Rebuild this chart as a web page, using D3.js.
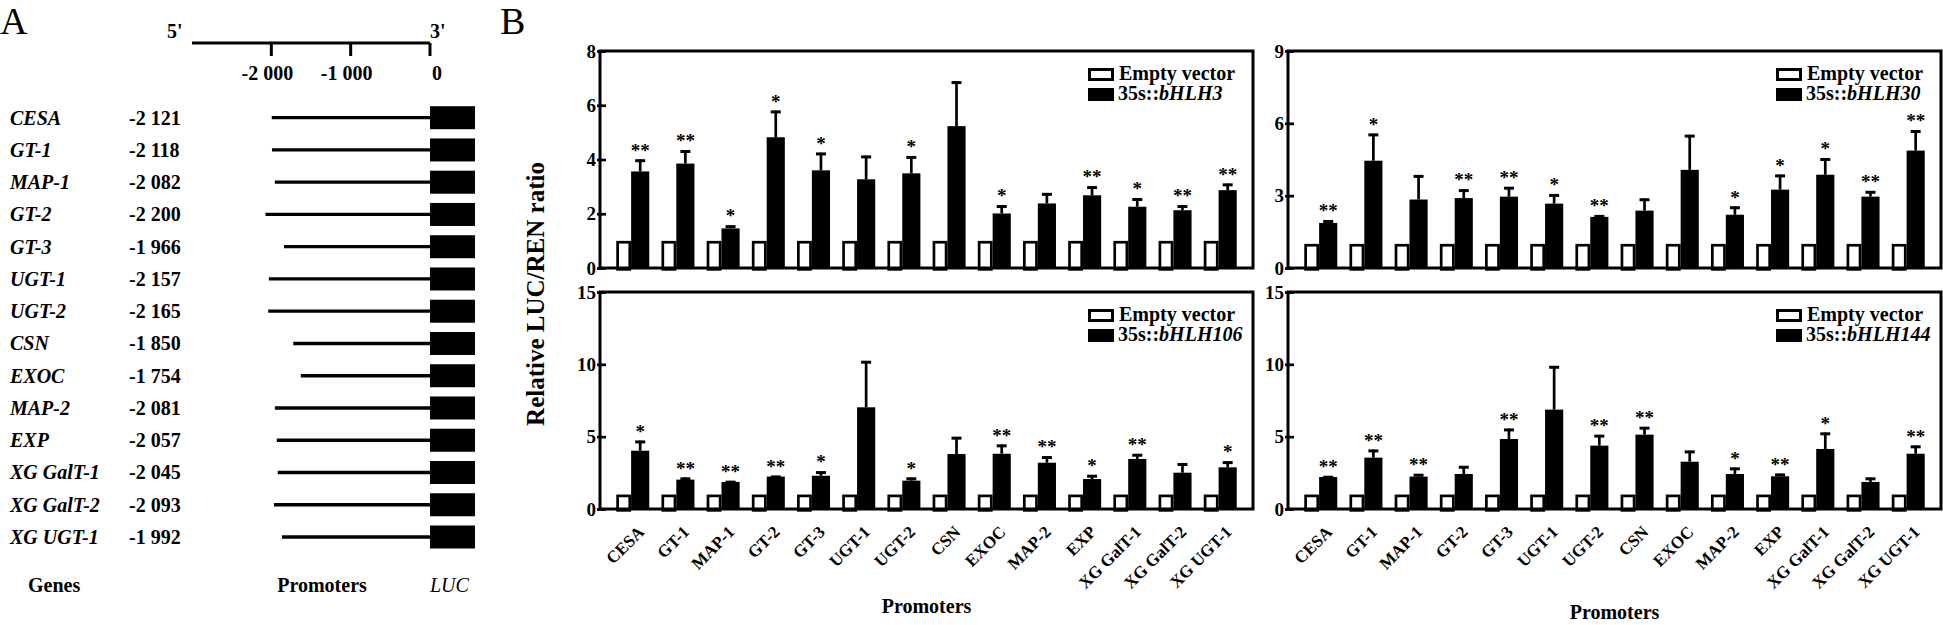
<!DOCTYPE html>
<html><head><meta charset="utf-8">
<script src="https://cdn.jsdelivr.net/npm/d3@7"></script>
<style>
html,body{margin:0;padding:0;background:#fff;}
svg text{font-family:"Liberation Serif","Times New Roman",serif;}
</style></head>
<body>
<svg id="chart" width="1943" height="625"></svg>
<script>
// ---------- Panel A data ----------
const genes = ["CESA","GT-1","MAP-1","GT-2","GT-3","UGT-1","UGT-2","CSN","EXOC","MAP-2","EXP","XG GalT-1","XG GalT-2","XG UGT-1"];
const promoterLengths = [2121,2118,2082,2200,1966,2157,2165,1850,1754,2081,2057,2045,2093,1992];
const scaleTicks = [-2000,-1000,0];

// ---------- Panel B data ----------
const categories = ["CESA","GT-1","MAP-1","GT-2","GT-3","UGT-1","UGT-2","CSN","EXOC","MAP-2","EXP","XG GalT-1","XG GalT-2","XG UGT-1"];
const emptyVector = [1,1,1,1,1,1,1,1,1,1,1,1,1,1];

const bHLH3Mean = [3.56,3.85,1.46,4.82,3.60,3.27,3.49,5.23,2.01,2.38,2.68,2.26,2.13,2.87];
const bHLH3SD   = [0.44,0.49,0.11,0.98,0.65,0.87,0.63,1.65,0.30,0.38,0.33,0.31,0.18,0.24];
const bHLH3Sig  = ["**","**","*","*","*","","*","","*","","**","*","**","**"];
const bHLH3Ticks = [0,2,4,6,8];

const bHLH30Mean = [1.87,4.45,2.84,2.90,2.96,2.67,2.12,2.38,4.07,2.21,3.25,3.87,2.96,4.87];
const bHLH30SD   = [0.11,1.12,1.01,0.36,0.40,0.39,0.07,0.50,1.45,0.34,0.62,0.68,0.23,0.84];
const bHLH30Sig  = ["**","*","","**","**","*","**","","","*","*","*","**","**"];
const bHLH30Ticks = [0,3,6,9];

const bHLH106Mean = [4.03,2.03,1.87,2.24,2.30,7.03,1.96,3.80,3.82,3.20,2.07,3.46,2.51,2.88];
const bHLH106SD   = [0.69,0.14,0.07,0.06,0.30,3.20,0.21,1.18,0.63,0.44,0.28,0.34,0.65,0.41];
const bHLH106Sig  = ["*","**","**","**","*","","*","","**","**","*","**","","*"];
const bHLH106Ticks = [0,5,10,15];

const bHLH144Mean = [2.21,3.55,2.24,2.42,4.84,6.87,4.38,5.14,3.27,2.42,2.26,4.15,1.87,3.82];
const bHLH144SD   = [0.07,0.55,0.18,0.55,0.71,3.01,0.74,0.53,0.76,0.44,0.18,1.13,0.30,0.56];
const bHLH144Sig  = ["**","**","**","","**","","**","**","","*","**","*","","**"];
const bHLH144Ticks = [0,5,10,15];

const svg = d3.select("#chart");

// ================= Panel A =================
svg.append("text").attr("x",0).attr("y",34).attr("font-size",38).text("A");

const xA = d3.scaleLinear().domain([-3000,0]).range([192,430]);
const xLine = d3.scaleLinear().domain([-3000,0]).range([202,440]);
const yA = d3.scalePoint().domain(genes).range([117.7,537]);
const gA = svg.append("g");
gA.append("line").attr("x1",xA(-3000)).attr("x2",xA(0)).attr("y1",43).attr("y2",43)
  .attr("stroke","#000").attr("stroke-width",3);
gA.selectAll(".stk").data(scaleTicks).join("line")
  .attr("x1",d=>xA(d)).attr("x2",d=>xA(d)).attr("y1",43).attr("y2",56)
  .attr("stroke","#000").attr("stroke-width",3);
const fmt = v => (v<0?"-":"") + d3.format(",")(Math.abs(v)).replace(/,/g," ");
gA.selectAll(".stl").data(scaleTicks).join("text")
  .attr("x",d=>xA(d) + (d===0?7:-4)).attr("y",80).attr("text-anchor","middle")
  .attr("font-size",20).attr("font-weight","bold").text(d=>fmt(d));
gA.append("text").attr("x",xA(-3000)-25).attr("y",38).attr("font-size",20).attr("font-weight","bold").text("5'");
gA.append("text").attr("x",xA(0)).attr("y",38).attr("font-size",20).attr("font-weight","bold").text("3'");

genes.forEach((g,i)=>{
  const cy = yA(g);
  gA.append("text").attr("x",10).attr("y",cy+7).attr("font-size",20)
    .attr("font-weight","bold").attr("font-style","italic").text(g);
  gA.append("text").attr("x",129).attr("y",cy+7).attr("font-size",20)
    .attr("font-weight","bold").text(fmt(-promoterLengths[i]));
  gA.append("line").attr("x1",xLine(-promoterLengths[i])).attr("x2",xA(0)).attr("y1",cy).attr("y2",cy)
    .attr("stroke","#000").attr("stroke-width",3.3);
  gA.append("rect").attr("x",xA(0)).attr("y",cy-11.5).attr("width",45).attr("height",23).attr("fill","#000");
});
gA.append("text").attr("x",28).attr("y",592).attr("font-size",20).attr("font-weight","bold").text("Genes");
gA.append("text").attr("x",322).attr("y",592).attr("font-size",20).attr("font-weight","bold").attr("text-anchor","middle").text("Promoters");
gA.append("text").attr("x",430).attr("y",592).attr("font-size",20).attr("font-style","italic").text("LUC");

// ================= Panel B =================
svg.append("text").attr("x",500).attr("y",34).attr("font-size",38).text("B");

svg.append("text").attr("transform","translate(544,294) rotate(-90)")
  .attr("text-anchor","middle").attr("font-size",25).attr("font-weight","bold")
  .text("Relative LUC/REN ratio");

function panel(cfg){
  const {x0,x1,y0,y1,max,ticks,mean,sd,sig,gene,xlabels,xtitleY} = cfg;
  const g = svg.append("g");
  const x = d3.scaleBand().domain(categories).range([x0,x1]).paddingInner(0.27).paddingOuter(0.36);
  const y = d3.scaleLinear().domain([0,max]).range([y1,y0]);
  const bw = x.bandwidth();
  const wW = bw*0.45, sw = 2.7;
  // white bars
  g.selectAll(".w").data(categories).join("rect")
    .attr("x",d=>x(d)+sw/2).attr("width",wW-sw)
    .attr("y",(d,i)=>y(emptyVector[i])+sw/2).attr("height",(d,i)=>y(0)-y(emptyVector[i]))
    .attr("fill","#fff").attr("stroke","#000").attr("stroke-width",sw);
  // black bars
  g.selectAll(".b").data(categories).join("rect")
    .attr("x",d=>x(d)+wW).attr("width",bw-wW)
    .attr("y",(d,i)=>y(mean[i])).attr("height",(d,i)=>y(0)-y(mean[i]))
    .attr("fill","#000");
  const cx = d => x(d)+wW+(bw-wW)/2;
  // error bars
  g.selectAll(".e").data(categories).join("line")
    .attr("x1",cx).attr("x2",cx)
    .attr("y1",(d,i)=>y(mean[i])).attr("y2",(d,i)=>y(mean[i]+sd[i]))
    .attr("stroke","#000").attr("stroke-width",2.7);
  g.selectAll(".c").data(categories).join("line")
    .attr("x1",d=>cx(d)-5).attr("x2",d=>cx(d)+5)
    .attr("y1",(d,i)=>y(mean[i]+sd[i])+1.2).attr("y2",(d,i)=>y(mean[i]+sd[i])+1.2)
    .attr("stroke","#000").attr("stroke-width",3);
  // stars
  g.selectAll(".s").data(categories).join("text")
    .attr("x",cx).attr("y",(d,i)=>y(mean[i]+sd[i])-3)
    .attr("text-anchor","middle").attr("font-size",19).attr("font-weight","bold")
    .attr("fill","#000").text((d,i)=>sig[i]);
  // frame
  g.append("rect").attr("x",x0).attr("y",y0).attr("width",x1-x0).attr("height",y1-y0)
    .attr("fill","none").attr("stroke","#000").attr("stroke-width",3);
  // y axis
  const ax = g.append("g").attr("transform",`translate(${x0},0)`)
    .call(d3.axisLeft(y).tickValues(ticks).tickSizeInner(-6).tickSizeOuter(0).tickPadding(4));
  ax.select(".domain").remove();
  ax.selectAll("line").attr("x1",-3).attr("stroke-width",2.7);
  ax.selectAll("text").attr("font-size",19).attr("font-weight","bold")
    .attr("font-family","Liberation Serif").attr("fill","#000");
  // legend
  const lx = x0+488;
  g.append("rect").attr("x",lx+1.5).attr("y",y0+18.5).attr("width",23).attr("height",10)
    .attr("fill","#fff").attr("stroke","#000").attr("stroke-width",3);
  g.append("rect").attr("x",lx).attr("y",y0+37).attr("width",26).attr("height",13).attr("fill","#000");
  g.append("text").attr("x",lx+31).attr("y",y0+29).attr("font-size",20).attr("font-weight","bold").text("Empty vector");
  const t2 = g.append("text").attr("x",lx+30).attr("y",y0+49).attr("font-size",20).attr("font-weight","bold");
  t2.append("tspan").text("35s::");
  t2.append("tspan").attr("font-style","italic").text(gene);
  // x labels
  if (xlabels){
    g.selectAll(".xl").data(categories).join("text")
      .attr("transform",d=>`translate(${cx(d)+5},${y1+24}) rotate(-45)`)
      .attr("text-anchor","end").attr("font-size",17).attr("font-weight","bold")
      .text(d=>d);
    g.append("text").attr("x",(x0+x1)/2).attr("y",xtitleY).attr("text-anchor","middle")
      .attr("font-size",20).attr("font-weight","bold").text("Promoters");
  }
}

panel({x0:600,x1:1253,y0:51,y1:268,max:8,ticks:bHLH3Ticks,mean:bHLH3Mean,sd:bHLH3SD,sig:bHLH3Sig,gene:"bHLH3",xlabels:false});
panel({x0:1288,x1:1941,y0:51,y1:268,max:9,ticks:bHLH30Ticks,mean:bHLH30Mean,sd:bHLH30SD,sig:bHLH30Sig,gene:"bHLH30",xlabels:false});
panel({x0:600,x1:1253,y0:292,y1:509,max:15,ticks:bHLH106Ticks,mean:bHLH106Mean,sd:bHLH106SD,sig:bHLH106Sig,gene:"bHLH106",xlabels:true,xtitleY:613});
panel({x0:1288,x1:1941,y0:292,y1:509,max:15,ticks:bHLH144Ticks,mean:bHLH144Mean,sd:bHLH144SD,sig:bHLH144Sig,gene:"bHLH144",xlabels:true,xtitleY:619});
</script>
</body></html>
